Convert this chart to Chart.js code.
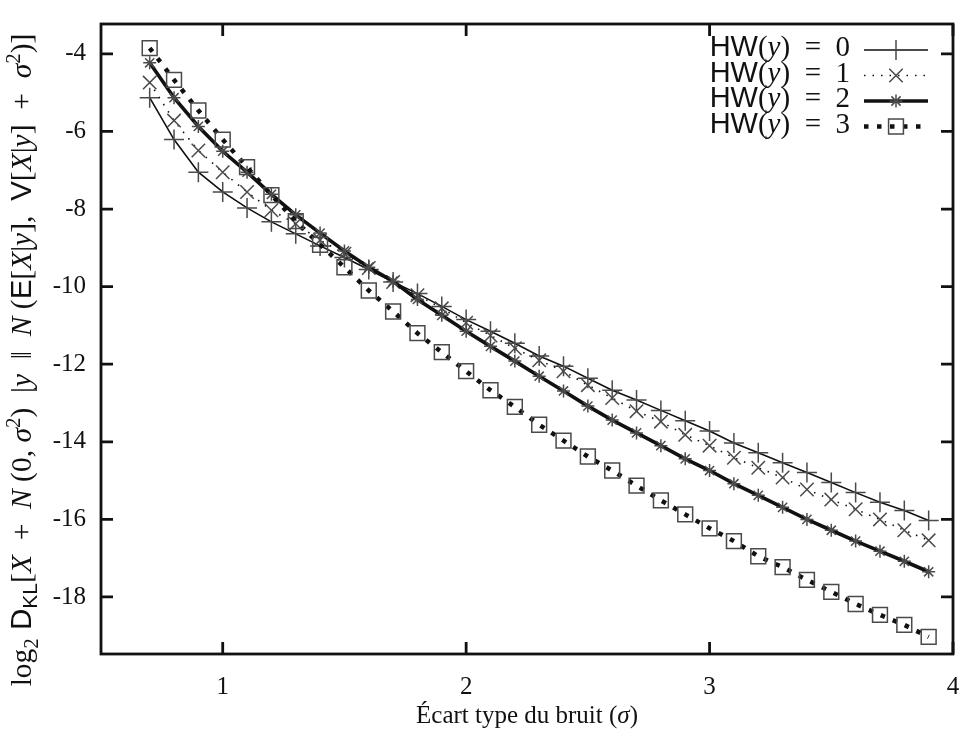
<!DOCTYPE html>
<html>
<head>
<meta charset="utf-8">
<title>KL divergence vs noise</title>
<script src="https://cdn.jsdelivr.net/npm/chart.js@4"></script>
<style>
  html, body { margin: 0; padding: 0; background: #fff; }
  canvas { display: block; }
</style>
</head>
<body>
<canvas id="klChart" width="968" height="742"></canvas>
<script>
// Noise standard deviation (sigma) sampled every 0.1
const sigmas = [0.7, 0.8, 0.9, 1.0, 1.1, 1.2, 1.3, 1.4, 1.5, 1.6, 1.7, 1.8, 1.9, 2.0, 2.1, 2.2, 2.3,
  2.4, 2.5, 2.6, 2.7, 2.8, 2.9, 3.0, 3.1, 3.2, 3.3, 3.4, 3.5, 3.6, 3.7, 3.8, 3.9];

// log2 D_KL for each Hamming weight of y
const hw0 = [-5.13, -6.21, -7.05, -7.56, -7.97, -8.33, -8.64, -8.95, -9.25, -9.56, -9.88, -10.18, -10.51,
  -10.85, -11.15, -11.46, -11.79, -12.05, -12.36, -12.67, -12.92, -13.19, -13.46, -13.72, -14.03,
  -14.28, -14.54, -14.79, -15.05, -15.31, -15.56, -15.77, -16.03];
const hw1 = [-4.74, -5.72, -6.49, -7.05, -7.56, -8.03, -8.38, -8.80, -9.15, -9.52, -9.88, -10.22, -10.56,
  -10.93, -11.26, -11.59, -11.90, -12.18, -12.54, -12.87, -13.21, -13.48, -13.82, -14.10, -14.41,
  -14.67, -14.92, -15.23, -15.49, -15.74, -16.00, -16.28, -16.54];
const hw2 = [-4.23, -5.13, -5.87, -6.51, -7.05, -7.62, -8.15, -8.62, -9.08, -9.50, -9.86, -10.33, -10.74,
  -11.15, -11.54, -11.92, -12.31, -12.69, -13.08, -13.44, -13.77, -14.10, -14.44, -14.74, -15.08,
  -15.38, -15.69, -16.00, -16.28, -16.56, -16.82, -17.08, -17.35];
const hw3 = [-3.85, -4.67, -5.46, -6.21, -6.92, -7.64, -8.31, -8.92, -9.50, -10.10, -10.64, -11.20, -11.69,
  -12.18, -12.67, -13.10, -13.56, -13.97, -14.38, -14.74, -15.13, -15.51, -15.87, -16.23, -16.56,
  -16.95, -17.23, -17.56, -17.87, -18.18, -18.46, -18.72, -19.03];

const hwValues = ['0', '1', '2', '3'];
const xTicks = [1, 2, 3, 4];
const yTicks = [-4, -6, -8, -10, -12, -14, -16, -18];

const SERIF = '"Liberation Serif", "DejaVu Serif", serif';
const SANS = '"Liberation Sans", "DejaVu Sans", sans-serif';
const INK = '#111';
const MARK = '#4a4a4a';

// gnuplot-ish line types: thin solid, thin dotted, thick solid, thick dotted
const styles = [
  { width: 1.6, dash: [], point: 'cross', radius: 10 },
  { width: 1.6, dash: [1.5, 7], point: 'crossRot', radius: 9.5 },
  { width: 3.6, dash: [], point: 'star', radius: 6.5 },
  { width: 4.5, dash: [4.5, 8.5], point: 'rect', radius: 10.5 }
];

const series = [hw0, hw1, hw2, hw3];

const datasets = series.map((ys, i) => ({
  label: 'HW(y) = ' + hwValues[i],
  data: sigmas.map((s, j) => ({ x: s, y: ys[j] })),
  borderColor: INK,
  borderWidth: styles[i].width,
  borderDash: styles[i].dash,
  borderCapStyle: 'butt',
  tension: 0,
  pointStyle: styles[i].point,
  pointRadius: styles[i].radius,
  pointHoverRadius: styles[i].radius,
  pointBorderColor: MARK,
  pointBackgroundColor: 'rgba(0,0,0,0)',
  pointBorderWidth: 1.5,
  order: 3 - i
}));

// draw a run of text pieces with their own font and baseline shift
function richWidth(ctx, segs) {
  let w = 0;
  for (const s of segs) {
    ctx.font = s.f;
    w += ctx.measureText(s.t).width;
  }
  return w;
}

function drawRich(ctx, segs, x, y, align) {
  let cx = x;
  const w = richWidth(ctx, segs);
  if (align === 'center') cx = x - w / 2;
  if (align === 'right') cx = x - w;
  ctx.textBaseline = 'alphabetic';
  ctx.textAlign = 'left';
  for (const s of segs) {
    ctx.font = s.f;
    ctx.fillText(s.t, cx, y + (s.dy || 0));
    cx += ctx.measureText(s.t).width;
  }
}

function yTitleSegs(size) {
  const r = size + 'px ' + SERIF;
  const it = 'italic ' + size + 'px ' + SERIF;
  const sf = size + 'px ' + SANS;
  const sub = Math.round(size * 0.7) + 'px ' + SERIF;
  const subS = Math.round(size * 0.7) + 'px ' + SANS;
  return [
    { t: 'log', f: r }, { t: '2', f: sub, dy: 7 }, { t: ' D', f: sf }, { t: 'KL', f: subS, dy: 6 },
    { t: '[', f: r }, { t: 'X', f: it }, { t: '  +  ', f: r }, { t: 'N', f: it }, { t: ' (0, ', f: r },
    { t: 'σ', f: it }, { t: '2', f: sub, dy: -11 }, { t: ')  |', f: r }, { t: 'y', f: it },
    { t: '  ‖  ', f: r }, { t: 'N', f: it }, { t: ' (', f: r }, { t: 'E', f: sf }, { t: '[', f: r },
    { t: 'X', f: it }, { t: '|', f: r }, { t: 'y', f: it }, { t: '],  ', f: r }, { t: 'V', f: sf },
    { t: '[', f: r }, { t: 'X', f: it }, { t: '|', f: r }, { t: 'y', f: it }, { t: ']  +  ', f: r },
    { t: 'σ', f: it }, { t: '2', f: sub, dy: -11 }, { t: ')]', f: r }
  ];
}

function legendSegs(v) {
  const size = 29;
  return [
    { t: 'HW', f: size + 'px ' + SANS }, { t: '(', f: size + 'px ' + SERIF },
    { t: 'y', f: 'italic ' + size + 'px ' + SERIF }, { t: ')', f: size + 'px ' + SERIF },
    { t: '  =  ' + v, f: size + 'px ' + SERIF }
  ];
}

const framePlugin = {
  id: 'frame',
  afterDraw(chart) {
    const { ctx, chartArea: a, scales } = chart;
    ctx.save();
    ctx.strokeStyle = INK;
    ctx.lineWidth = 2.8;
    ctx.setLineDash([]);
    ctx.strokeRect(a.left, a.top, a.right - a.left, a.bottom - a.top);

    // inward ticks, mirrored on all four sides
    const tl = 12;
    ctx.beginPath();
    for (const v of xTicks) {
      const px = scales.x.getPixelForValue(v);
      ctx.moveTo(px, a.bottom); ctx.lineTo(px, a.bottom - tl);
      ctx.moveTo(px, a.top); ctx.lineTo(px, a.top + tl);
    }
    for (const v of yTicks) {
      const py = scales.y.getPixelForValue(v);
      ctx.moveTo(a.left, py); ctx.lineTo(a.left + tl, py);
      ctx.moveTo(a.right, py); ctx.lineTo(a.right - tl, py);
    }
    ctx.stroke();

    // axis titles
    ctx.fillStyle = INK;
    drawRich(ctx, [
      { t: 'Écart type du bruit (', f: '25px ' + SERIF },
      { t: 'σ', f: 'italic 25px ' + SERIF },
      { t: ')', f: '25px ' + SERIF }
    ], (a.left + a.right) / 2, 723, 'center');

    ctx.save();
    ctx.translate(31, 360);
    ctx.rotate(-Math.PI / 2);
    drawRich(ctx, yTitleSegs(29.5), 0, 0, 'center');
    ctx.restore();

    // legend, top right inside the plot
    chart.data.datasets.forEach((ds, i) => {
      const rowY = a.top + 26 + i * 25.5;
      ctx.fillStyle = INK;
      drawRich(ctx, legendSegs(hwValues[i]), 850, rowY + 6, 'right');
      ctx.strokeStyle = INK;
      ctx.lineWidth = ds.borderWidth;
      ctx.lineCap = 'butt';
      ctx.setLineDash(ds.borderDash);
      ctx.beginPath();
      ctx.moveTo(864, rowY);
      ctx.lineTo(928, rowY);
      ctx.stroke();
      ctx.setLineDash([]);
      ctx.strokeStyle = MARK;
      ctx.fillStyle = 'rgba(0,0,0,0)';
      ctx.lineWidth = 1.5;
      Chart.helpers.drawPoint(ctx, {
        pointStyle: ds.pointStyle, radius: ds.pointRadius, borderWidth: 1.5, rotation: 0
      }, 896, rowY);
    });
    ctx.restore();
  }
};

new Chart(document.getElementById('klChart'), {
  type: 'line',
  data: { datasets },
  options: {
    responsive: false,
    animation: false,
    devicePixelRatio: 1,
    layout: { padding: { top: 24, right: 15, left: 0, bottom: 0 } },
    plugins: { legend: { display: false }, tooltip: { enabled: false } },
    scales: {
      x: {
        type: 'linear',
        min: 0.5,
        max: 4,
        grid: { display: false, drawTicks: false },
        border: { display: false },
        afterBuildTicks: s => { s.ticks = xTicks.map(v => ({ value: v })); },
        afterFit: s => {
          s.height = 88;
          s.paddingLeft = 0; s.paddingRight = 0; s.paddingTop = 0; s.paddingBottom = 0;
        },
        ticks: {
          color: INK,
          padding: 18,
          font: { family: SERIF, size: 25 },
          maxRotation: 0,
          callback: v => String(v)
        }
      },
      y: {
        type: 'linear',
        min: -19.47,
        max: -3.23,
        grid: { display: false, drawTicks: false },
        border: { display: false },
        afterBuildTicks: s => { s.ticks = yTicks.map(v => ({ value: v })); },
        afterFit: s => {
          s.width = 101;
          s.paddingLeft = 0; s.paddingRight = 0; s.paddingTop = 0; s.paddingBottom = 0;
        },
        ticks: {
          color: INK,
          padding: 15,
          font: { family: SERIF, size: 25 },
          callback: v => String(v)
        }
      }
    }
  },
  plugins: [framePlugin]
});
</script>
</body>
</html>
